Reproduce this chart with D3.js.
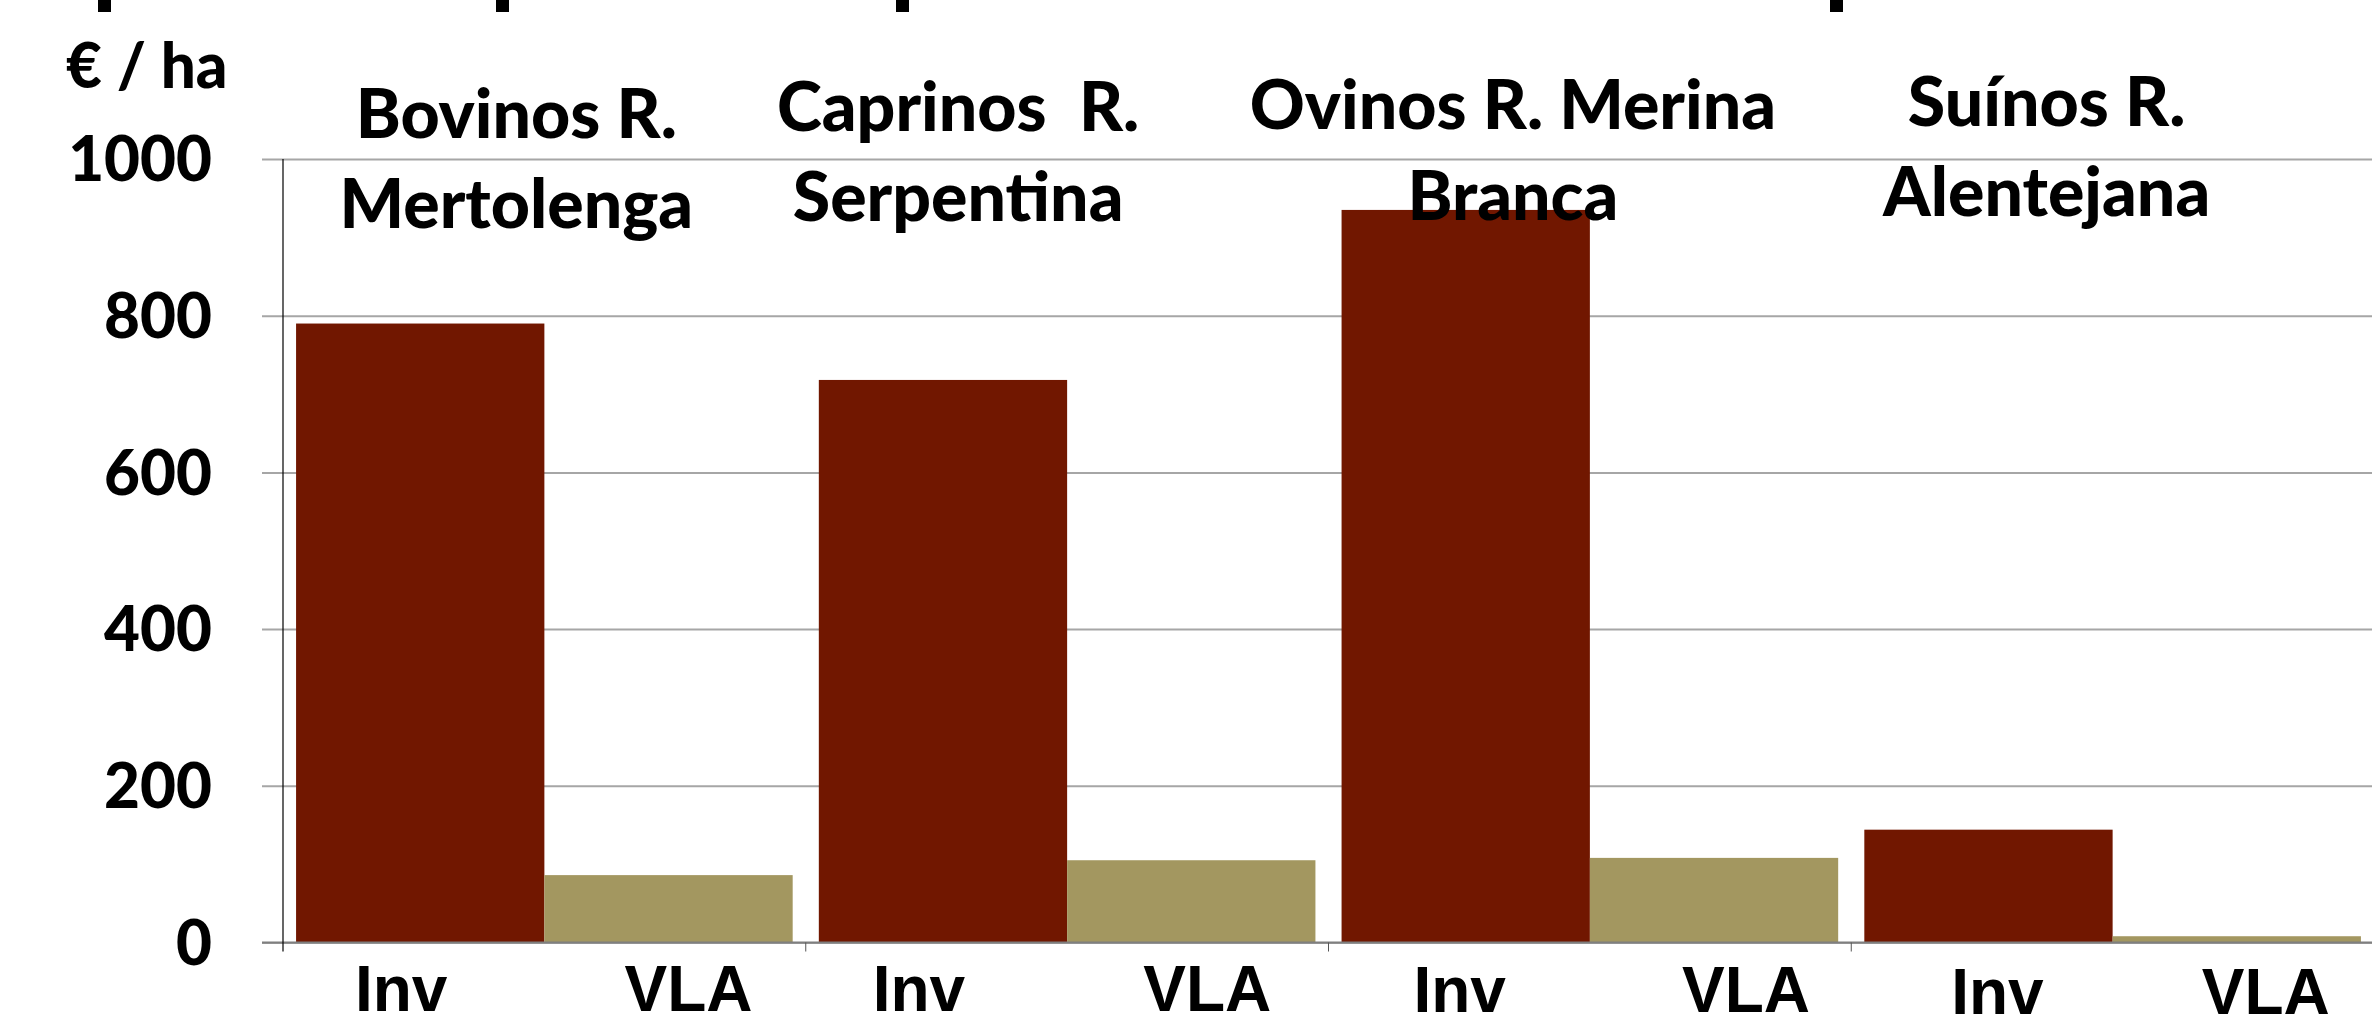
<!DOCTYPE html>
<html lang="pt">
<head>
    <meta charset="UTF-8">
    <title>€ / ha por raça</title>
    <script src="https://d3js.org/d3.v7.min.js"></script>
    <style>
        body {
            margin: 0;
            background: #fff;
        }
        svg text {
            font-family: Lato, "Open Sans", sans-serif;
            font-weight: 900;
            fill: #000;
        }
        svg text.cat {
            font-family: "Liberation Sans", Arial, sans-serif;
            font-weight: 700;
        }
    </style>
</head>
<body>
    <div id="chart"></div>

    <script>
        // data
        const groups = ["Bovinos", "Caprinos", "Ovinos", "Suinos"];
        const groupTitles = [
            ["Bovinos R.", "Mertolenga"],
            ["Caprinos  R.", "Serpentina"],
            ["Ovinos R. Merina", "Branca"],
            ["Suínos R.", "Alentejana"]
        ];
        const seriesNames = ["Inv", "VLA"];
        const invValues = [790, 718, 935, 144];
        const vlaValues = [86, 105, 108, 8];
        const yTicks = [0, 200, 400, 600, 800, 1000];
        const yLabel = "€ / ha";

        const width = 2372;
        const height = 1028;
        const x0 = 283, x1 = 2374;
        const yBase = 942.5, yTop = 159;
        const colors = { Inv: "#711700", VLA: "#a39760" };

        // the slide's text boxes are not exactly centred on the bars
        const titleShift = [-28, -109, -77, -66];
        const titleBase = [[138, 228], [131, 221], [129, 220], [126, 216]];
        const catShift = [[-19, 20], [-24, 16], [-6, 32], [9, 29]];
        const catBase = [[1011, 1011], [1011, 1011], [1012, 1012], [1014, 1014]];

        const svg = d3.select("#chart")
            .append("svg")
            .attr("width", width)
            .attr("height", height);

        const x = d3.scaleBand()
            .domain(groups)
            .range([x0, x1])
            .paddingInner(0.05)
            .paddingOuter(0.025);

        const xIn = d3.scaleBand()
            .domain(seriesNames)
            .range([0, x.bandwidth()]);

        const y = d3.scaleLinear()
            .domain([0, 1000])
            .range([yBase, yTop]);

        // cut-off title fragments at the very top of the slide
        [98, 496, 896, 1830].forEach(px => {
            svg.append("rect")
                .attr("x", px).attr("y", 0)
                .attr("width", 13).attr("height", 12)
                .attr("fill", "#000");
        });

        // gridlines + left ticks
        const yAxis = d3.axisLeft(y)
            .tickValues(yTicks)
            .tickSize(-(width - x0))
            .tickPadding(0)
            .tickFormat("");

        const gy = svg.append("g")
            .attr("transform", `translate(${x0},0)`)
            .call(yAxis);
        gy.select(".domain").remove();
        gy.selectAll(".tick line")
            .attr("x1", -21)
            .attr("stroke", "#a6a6a6")
            .attr("stroke-width", 2);

        // tick labels
        svg.append("g")
            .selectAll("text")
            .data(yTicks)
            .join("text")
            .attr("x", 212)
            .attr("y", d => y(d))
            .attr("dy", "0.36em")
            .attr("text-anchor", "end")
            .attr("font-size", 62)
            .text(d => d);

        svg.append("text")
            .attr("x", 66)
            .attr("y", 88)
            .attr("font-size", 62)
            .text(yLabel);

        // bars
        const rows = groups.map((g, i) => ({ group: g, values: [invValues[i], vlaValues[i]] }));

        const gBars = svg.append("g")
            .selectAll("g")
            .data(rows)
            .join("g")
            .attr("transform", d => `translate(${x(d.group)},0)`);

        gBars.selectAll("rect")
            .data(d => d.values.map((v, j) => ({ key: seriesNames[j], value: v })))
            .join("rect")
            .attr("x", d => xIn(d.key))
            .attr("width", xIn.bandwidth())
            .attr("y", d => y(d.value))
            .attr("height", d => yBase - y(d.value))
            .attr("fill", d => colors[d.key]);

        // baseline, y axis line and group ticks
        svg.append("line")
            .attr("x1", x0 - 21).attr("x2", width)
            .attr("y1", yBase).attr("y2", yBase)
            .attr("stroke", "#7f7f7f")
            .attr("stroke-width", 2);

        svg.append("line")
            .attr("x1", x0).attr("x2", x0)
            .attr("y1", yTop).attr("y2", yBase + 9)
            .attr("stroke", "#000")
            .attr("stroke-width", 1.2);

        const bounds = groups.map(g => x(g) - x.step() * x.paddingInner() / 2).slice(1);
        svg.append("g")
            .selectAll("line")
            .data(bounds)
            .join("line")
            .attr("x1", d => d).attr("x2", d => d)
            .attr("y1", yBase).attr("y2", yBase + 9)
            .attr("stroke", "#555")
            .attr("stroke-width", 1);

        // category labels under the bars
        groups.forEach((g, i) => {
            seriesNames.forEach((s, j) => {
                svg.append("text")
                    .attr("class", "cat")
                    .attr("x", x(g) + xIn(s) + xIn.bandwidth() / 2 + catShift[i][j])
                    .attr("y", catBase[i][j])
                    .attr("text-anchor", "middle")
                    .attr("font-size", 64)
                    .text(s);
            });
        });

        // group titles (drawn over the bars)
        groups.forEach((g, i) => {
            const cx = x(g) + x.bandwidth() / 2 + titleShift[i];
            groupTitles[i].forEach((line, k) => {
                svg.append("text")
                    .attr("x", cx)
                    .attr("y", titleBase[i][k])
                    .attr("text-anchor", "middle")
                    .attr("font-size", 68)
                    .style("white-space", "pre")
                    .text(line);
            });
        });
    </script>
</body>
</html>
